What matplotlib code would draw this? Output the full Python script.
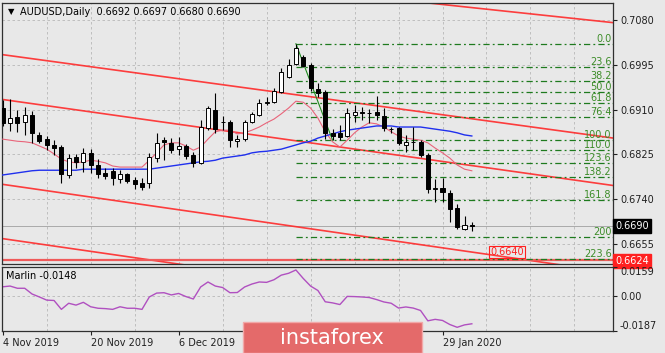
import matplotlib
matplotlib.use("Agg")
import matplotlib.pyplot as plt
from matplotlib.patches import Rectangle
import numpy as np

# ---- values ----
date_ticks = [0, 12, 24, 36, 48, 60]
# the two middle labels sit under the watermark in the reference
date_labels = ["4 Nov 2019", "20 Nov 2019", "6 Dec 2019", "", "", "29 Jan 2020"]

opens = [0.6913, 0.6885, 0.6896, 0.6887, 0.6900, 0.6862, 0.6854, 0.6843, 0.6839, 0.6786,
         0.6820, 0.6811, 0.6828, 0.6805, 0.6790, 0.6794, 0.6778, 0.6788, 0.6776, 0.6771,
         0.6771, 0.6818, 0.6852, 0.6847, 0.6835, 0.6841, 0.6824, 0.6809, 0.6875, 0.6909,
         0.6887, 0.6887, 0.6850, 0.6854, 0.6887, 0.6900, 0.6923, 0.6924, 0.6943, 0.6972,
         0.6996, 0.7010, 0.6995, 0.6949, 0.6943, 0.6866, 0.6866, 0.6860, 0.6900, 0.6905,
         0.6904, 0.6906, 0.6898, 0.6874, 0.6875, 0.6843, 0.6849, 0.6849, 0.6824, 0.6760,
         0.6761, 0.6752, 0.6723, 0.6683, 0.6692]
highs = [0.6928, 0.6930, 0.6909, 0.6915, 0.6907, 0.6868, 0.6860, 0.6852, 0.6843, 0.6826,
         0.6826, 0.6837, 0.6835, 0.6816, 0.6799, 0.6799, 0.6795, 0.6790, 0.6782, 0.6780,
         0.6828, 0.6866, 0.6858, 0.6856, 0.6858, 0.6845, 0.6830, 0.6890, 0.6917, 0.6942,
         0.6898, 0.6890, 0.6862, 0.6890, 0.6906, 0.6930, 0.6934, 0.6951, 0.6989, 0.7006,
         0.7035, 0.7014, 0.6998, 0.6960, 0.6947, 0.6873, 0.6881, 0.6913, 0.6919, 0.6915,
         0.6911, 0.6936, 0.6913, 0.6877, 0.6877, 0.6862, 0.6877, 0.6852, 0.6828, 0.6779,
         0.6780, 0.6758, 0.6731, 0.6708, 0.6697]
lows = [0.6879, 0.6869, 0.6868, 0.6862, 0.6847, 0.6847, 0.6833, 0.6824, 0.6771, 0.6780,
        0.6799, 0.6792, 0.6790, 0.6780, 0.6778, 0.6767, 0.6771, 0.6771, 0.6759, 0.6758,
        0.6761, 0.6811, 0.6814, 0.6828, 0.6824, 0.6816, 0.6801, 0.6807, 0.6871, 0.6866,
        0.6871, 0.6839, 0.6839, 0.6850, 0.6885, 0.6898, 0.6919, 0.6923, 0.6941, 0.6970,
        0.6994, 0.6991, 0.6945, 0.6934, 0.6855, 0.6852, 0.6853, 0.6858, 0.6887, 0.6890,
        0.6885, 0.6890, 0.6869, 0.6866, 0.6843, 0.6830, 0.6834, 0.6820, 0.6752, 0.6735,
        0.6735, 0.6697, 0.6683, 0.6681, 0.6680]
closes = [0.6885, 0.6894, 0.6885, 0.6900, 0.6866, 0.6850, 0.6843, 0.6837, 0.6788, 0.6818,
          0.6811, 0.6828, 0.6805, 0.6788, 0.6784, 0.6780, 0.6788, 0.6775, 0.6769, 0.6763,
          0.6820, 0.6847, 0.6849, 0.6833, 0.6841, 0.6822, 0.6809, 0.6877, 0.6913, 0.6873,
          0.6886, 0.6852, 0.6854, 0.6887, 0.6902, 0.6923, 0.6925, 0.6945, 0.6981, 0.6995,
          0.7027, 0.6993, 0.6951, 0.6942, 0.6866, 0.6860, 0.6858, 0.6904, 0.6906, 0.6904,
          0.6903, 0.6900, 0.6875, 0.6873, 0.6847, 0.6849, 0.6848, 0.6824, 0.6759, 0.6762,
          0.6754, 0.6721, 0.6687, 0.6692, 0.6690]

ma_fast = [0.6854, 0.6852, 0.6850, 0.6849, 0.6847, 0.6841, 0.6835, 0.6826, 0.6816, 0.6811,
           0.6809, 0.6811, 0.6814, 0.6812, 0.6809, 0.6803, 0.6801, 0.6801, 0.6801, 0.6801,
           0.6814, 0.6828, 0.6843, 0.6847, 0.6847, 0.6841, 0.6833, 0.6839, 0.6854, 0.6868,
           0.6871, 0.6871, 0.6864, 0.6866, 0.6871, 0.6877, 0.6885, 0.6892, 0.6902, 0.6913,
           0.6926, 0.6924, 0.6913, 0.6894, 0.6868, 0.6849, 0.6839, 0.6852, 0.6866, 0.6877,
           0.6885, 0.6883, 0.6877, 0.6868, 0.6860, 0.6856, 0.6854, 0.6852, 0.6847, 0.6837,
           0.6828, 0.6818, 0.6805, 0.6797, 0.6794]
ma_slow = [0.6786, 0.6788, 0.6790, 0.6792, 0.6794, 0.6795, 0.6795, 0.6795, 0.6795, 0.6795,
           0.6795, 0.6797, 0.6797, 0.6797, 0.6797, 0.6797, 0.6797, 0.6797, 0.6797, 0.6797,
           0.6797, 0.6799, 0.6801, 0.6803, 0.6805, 0.6807, 0.6809, 0.6811, 0.6812, 0.6814,
           0.6818, 0.6820, 0.6822, 0.6824, 0.6828, 0.6830, 0.6831, 0.6833, 0.6835, 0.6839,
           0.6843, 0.6847, 0.6850, 0.6856, 0.6860, 0.6864, 0.6868, 0.6871, 0.6873, 0.6875,
           0.6877, 0.6879, 0.6879, 0.6879, 0.6877, 0.6877, 0.6877, 0.6877, 0.6875, 0.6873,
           0.6871, 0.6869, 0.6866, 0.6862, 0.6860]
marlin = [0.0052, 0.0056, 0.0044, 0.0044, 0.0013, -0.0003, -0.0020, -0.0022, -0.0070, -0.0037,
          -0.0047, -0.0032, -0.0056, -0.0064, -0.0066, -0.0070, -0.0056, -0.0064, -0.0064, -0.0070,
          -0.0003, 0.0018, 0.0020, 0.0008, 0.0016, -0.0001, -0.0014, 0.0051, 0.0078, 0.0056,
          0.0048, 0.0020, 0.0021, 0.0051, 0.0067, 0.0078, 0.0076, 0.0090, 0.0115, 0.0125,
          0.0143, 0.0097, 0.0056, 0.0032, -0.0029, -0.0035, -0.0044, 0.0000, -0.0001, -0.0003,
          -0.0006, -0.0017, -0.0030, -0.0037, -0.0063, -0.0057, -0.0063, -0.0076, -0.0132, -0.0124,
          -0.0130, -0.0152, -0.0167, -0.0154, -0.0148]

price_ticks = [0.7080, 0.6995, 0.6910, 0.6825, 0.6740, 0.6655]
marlin_ticks = [0.0159, 0.00, -0.0187]
marlin_labels = ["0.0159", "0.00", "-0.0187"]

fib_start, fib_end = 40, 45
fib_high, fib_low = 0.7035, 0.6852
fib_levels = [0.0, 23.6, 38.2, 50.0, 61.8, 76.4, 100.0, 110.0, 123.6, 138.2, 161.8, 200.0, 223.6]
fib_labels = ["0.0", "23.6", "38.2", "50.0", "61.8", "76.4", "100.0", "110.0", "123.6", "138.2", "161.8", "200", "223.6"]

# channel lines: (bar, price) -> (bar, price)
channel_lines = [
    ((58.3, 0.7112), (83.3, 0.7075)),
    ((-0.4, 0.7015), (83.3, 0.6856)),
    ((-0.4, 0.6930), (83.3, 0.6766)),
    ((-0.4, 0.6769), (83.3, 0.6601)),
    ((-0.4, 0.6666), (25.0, 0.6615)),
]
last_price = 0.6690
support_price = 0.6624
target_price, target_bar = 0.6640, 68.8

# ---- figure ----
bg = "#e8e8e8"
W, H = 665, 353
fig = plt.figure(figsize=(W / 100, H / 100), dpi=100, facecolor=bg)
ax = fig.add_axes([2 / W, 1 - 264 / H, 611 / W, 261 / H], facecolor=bg)
ax2 = fig.add_axes([2 / W, 22 / H, 611 / W, 64 / H], facecolor=bg)

xlim = (-0.1, 83.26)
for a in (ax, ax2):
    a.set_xlim(*xlim)
    for s in a.spines.values():
        s.set_color("#303030")
        s.set_linewidth(0.9)
    a.set_xticks(np.arange(6, 84, 6), minor=True)
    a.grid(which="minor", axis="x", color="#b8b8b8", ls=(0, (3, 3)), lw=0.6)
    a.tick_params(which="minor", length=0)
    a.set_axisbelow(True)

ax.set_ylim(0.66171, 0.71123)
ax.set_xticks([])
ax.yaxis.tick_right()
ax.set_yticks(price_ticks, [f"{p:.4f}" for p in price_ticks])
ax.tick_params(axis="y", labelsize=7, length=3, pad=2, colors="#202020")
ax.grid(which="major", axis="y", color="#b8b8b8", ls=(0, (3, 3)), lw=0.6)

# candles
x = np.arange(len(opens))
o, h, l, c = map(np.array, (opens, highs, lows, closes))
up = c >= o
ax.vlines(x, l, h, color="black", lw=0.8, zorder=4)
bot = np.minimum(o, c)
hgt = np.maximum(np.abs(c - o), 0.00005)
ax.bar(x[up], hgt[up], 0.55, bottom=bot[up], facecolor="white", edgecolor="black", lw=0.7, zorder=5)
ax.bar(x[~up], hgt[~up], 0.55, bottom=bot[~up], facecolor="black", edgecolor="black", lw=0.7, zorder=5)

# moving averages
ax.plot(x[:len(ma_fast)], ma_fast, color="#e8647a", lw=0.8, zorder=3)
ax.plot(x[:len(ma_slow)], ma_slow, color="#2030ee", lw=1.0, zorder=3)

# channel lines
for (x0, y0), (x1, y1) in channel_lines:
    ax.plot([x0, x1], [y0, y1], color="#ff2a2a", lw=1.2, alpha=0.9, zorder=2)

ax.axhline(support_price, color="#f05a5a", lw=1.6, zorder=2)
ax.axhline(last_price, color="#a0a0a0", lw=0.6, zorder=1)

# fibonacci
rng = fib_high - fib_low
ax.plot([fib_start, fib_end], [fib_high, fib_low], color="#1e8a1e", lw=0.8, zorder=3)
for lvl, lab in zip(fib_levels, fib_labels):
    p = fib_high - lvl / 100 * rng
    ax.plot([fib_start, xlim[1]], [p, p], color="#1e7a1e", lw=0.9,
            ls=(0, (5, 2.5, 1.5, 2.5)), zorder=2)
    ax.text(xlim[1] - 0.2, p, lab, ha="right", va="bottom", color="#3c8c28", fontsize=7, zorder=6)

ax.text(target_bar, target_price, f"{target_price:.4f}", ha="center", va="center", color="#ff2020",
        fontsize=7, zorder=7,
        bbox=dict(boxstyle="square,pad=0.12", fc="none", ec="#ff2020", lw=0.8))

ytr = ax.get_yaxis_transform()
ax.text(1.004, last_price, f"{last_price:.4f}", transform=ytr, ha="left", va="center", color="white",
        fontsize=7, clip_on=False, bbox=dict(boxstyle="square,pad=0.2", fc="black", ec="black"))
ax.text(1.004, support_price - 0.0002, f"{support_price:.4f}", transform=ytr, ha="left", va="center",
        color="white", fontsize=7, clip_on=False,
        bbox=dict(boxstyle="square,pad=0.2", fc="#ff2020", ec="#ff2020"), zorder=8)

# header
fig.text(8 / W, 1 - 12 / H, "\u25bc", fontsize=6, va="center", color="black")
fig.text(20 / W, 1 - 12 / H, "AUDUSD,Daily  0.6692 0.6697 0.6680 0.6690", fontsize=7,
         va="center", color="black")

# marlin panel
ax2.set_ylim(-0.0187, 0.0159)
ax2.plot(x, marlin, color="#b050c0", lw=1.0)
ax2.axhline(0, color="#b8b8b8", ls=(0, (3, 3)), lw=0.6, zorder=0)
ax2.yaxis.tick_right()
ax2.set_yticks(marlin_ticks, marlin_labels)
ax2.tick_params(axis="y", labelsize=7, length=3, pad=2, colors="#202020")
ylabs = ax2.get_yticklabels()
ylabs[0].set_va("top")
ylabs[-1].set_va("bottom")
ax2.set_xticks(date_ticks, date_labels)
ax2.tick_params(axis="x", labelsize=7, length=3, pad=2, colors="#202020")
for t in ax2.get_xticklabels():
    t.set_ha("left")
ax2.text(0.007, 0.93, "Marlin -0.0148", transform=ax2.transAxes, fontsize=7, va="top")

# watermark
fig.add_artist(Rectangle((243 / W, 0), 179 / W, 31 / H, transform=fig.transFigure,
                         facecolor="#e46a6a", edgecolor="#f2a8a8", lw=1, zorder=10))
fig.text(332 / W, 15 / H, "instaforex", color="white", fontsize=15, ha="center", va="center", zorder=11)

fig.savefig("out.png", dpi=100, facecolor=bg)
